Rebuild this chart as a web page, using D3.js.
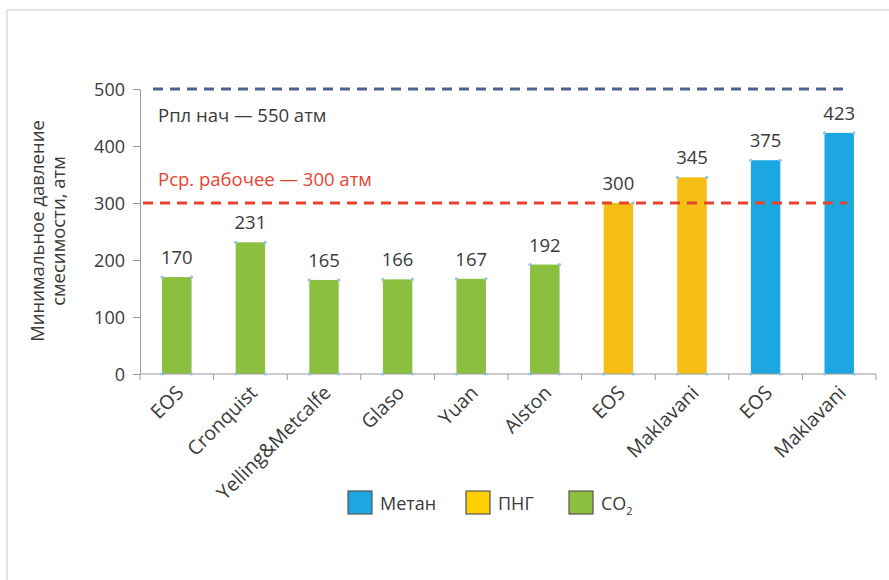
<!DOCTYPE html>
<html><head><meta charset="utf-8">
<script src="https://cdn.jsdelivr.net/npm/d3@7"></script>
<style>
body{margin:0;background:#fff;}
svg text{font-family:"Open Sans","Noto Sans",sans-serif;font-weight:400;}
</style></head>
<body>
<svg id="chart" width="889" height="580"></svg>
<script>
const categories = ["EOS","Cronquist","Yelling&Metcalfe","Glaso","Yuan","Alston","EOS","Maklavani","EOS","Maklavani"];
const values = [170,231,165,166,167,192,300,345,375,423];
const groups = ["CO2","CO2","CO2","CO2","CO2","CO2","ПНГ","ПНГ","Метан","Метан"];
const yTicks = [0,100,200,300,400,500];
const refValues = [500,300];
const refLabels = ["Рпл нач — 550 атм","Рср. рабочее — 300 атм"];
const legendNames = ["Метан","ПНГ","CO2"];

(function(){
const barColor = {"Метан":"#1DA7E0","ПНГ":"#F7BE16","CO2":"#8BBF40"};
const legendColor = {"Метан":"#1DA7E0","ПНГ":"#FFD000","CO2":"#8BBF40"};
const FF = "'Open Sans','Noto Sans',sans-serif";
const TXT = "#3a3a3a";

const svg = d3.select("#chart");
// frame
svg.append("rect").attr("x",7).attr("y",10).attr("width",900).attr("height",600)
  .attr("fill","none").attr("stroke","#dcdcdc").attr("stroke-width",1.5);

const pl=140, pr=876, pt=89, pb=374;
const x = d3.scaleBand().domain(d3.range(categories.length)).range([pl,pr]).paddingInner(0.6).paddingOuter(0.3);
const y = d3.scaleLinear().domain([0,500]).range([pb,pt]);

// bars
const bw = x.bandwidth();
svg.selectAll("rect.bar").data(values).join("rect").attr("class","bar")
  .attr("x",(d,i)=>x(i)).attr("y",d=>y(d)).attr("width",bw).attr("height",d=>y(0)-y(d))
  .attr("fill",(d,i)=>barColor[groups[i]]);

// axes
const yAxis = d3.axisLeft(y).tickValues(yTicks).tickSize(7).tickSizeOuter(0);
const gy = svg.append("g").attr("transform",`translate(${pl},0)`).call(yAxis);
gy.attr("font-family",null).attr("font-size",null);
gy.select(".domain").attr("stroke","#9a9a9a");
gy.selectAll(".tick line").attr("stroke","#9a9a9a");
gy.selectAll(".tick text").attr("font-size",18).attr("fill",TXT).attr("x",-15).attr("dy","0.35em")
  .style("font-family",FF);

const xb = d3.scaleLinear().domain([0,categories.length]).range([pl,pr]);
svg.append("line").attr("x1",pl).attr("x2",pr).attr("y1",pb).attr("y2",pb).attr("stroke","#9a9a9a");
svg.selectAll("line.xt").data(d3.range(categories.length+1)).join("line").attr("class","xt")
  .attr("x1",d=>xb(d)).attr("x2",d=>xb(d)).attr("y1",pb).attr("y2",pb+6).attr("stroke","#9a9a9a");

// corner markers
values.forEach((v,i)=>{
  [[x(i),y(v)],[x(i)+bw,y(v)],[x(i),y(0)],[x(i)+bw,y(0)]].forEach(p=>{
    svg.append("circle").attr("cx",p[0]).attr("cy",p[1]).attr("r",1.6).attr("fill","#8ec3ee");
  });
});

// x labels
svg.selectAll("text.xl").data(categories).join("text").attr("class","xl")
  .attr("transform",(d,i)=>`translate(${x(i)+bw/2+8},${pb+20}) rotate(-45)`)
  .attr("text-anchor","end").attr("font-size",19.5).attr("fill",TXT).text(d=>d);

// value labels
svg.selectAll("text.vl").data(values).join("text").attr("class","vl")
  .attr("x",(d,i)=>x(i)+bw/2).attr("y",d=>y(d)-13)
  .attr("text-anchor","middle").attr("font-size",18.5).attr("fill",TXT).text(d=>d);

// reference lines
const refColors = ["#4E6491","#E8432E"];
const refX = [[153,850],[143,847]];
refValues.forEach((v,i)=>{
  svg.append("line").attr("x1",refX[i][0]).attr("x2",refX[i][1]).attr("y1",y(v)).attr("y2",y(v))
    .attr("stroke",refColors[i]).attr("stroke-width",3).attr("stroke-dasharray","10,7");
});
svg.append("text").attr("x",158).attr("y",y(500)+33).attr("font-size",18.5).attr("fill",TXT).text(refLabels[0]);
svg.append("text").attr("x",158).attr("y",y(300)-17).attr("font-size",18.5).attr("fill","#E8432E").text(refLabels[1]);

// y title
const yt = svg.append("text").attr("transform",`translate(44,231) rotate(-90)`).attr("text-anchor","middle")
  .attr("font-size",18.5).attr("fill",TXT);
yt.append("tspan").attr("x",0).attr("dy",0).text("Минимальное давление");
yt.append("tspan").attr("x",0).attr("dy",21).text("смесимости, атм");

// legend
const legX = [348,466,569];
legendNames.forEach((n,i)=>{
  svg.append("rect").attr("x",legX[i]).attr("y",491).attr("width",24).attr("height",23)
    .attr("fill",legendColor[n]).attr("stroke","#555").attr("stroke-width",1.2);
  const t = svg.append("text").attr("x",legX[i]+32).attr("y",510).attr("font-size",18).attr("fill",TXT);
  if(n==="CO2"){ t.append("tspan").text("CO"); t.append("tspan").attr("font-size",11).attr("dy",5).text("2"); }
  else t.text(n);
});
})();
</script>
</body></html>
